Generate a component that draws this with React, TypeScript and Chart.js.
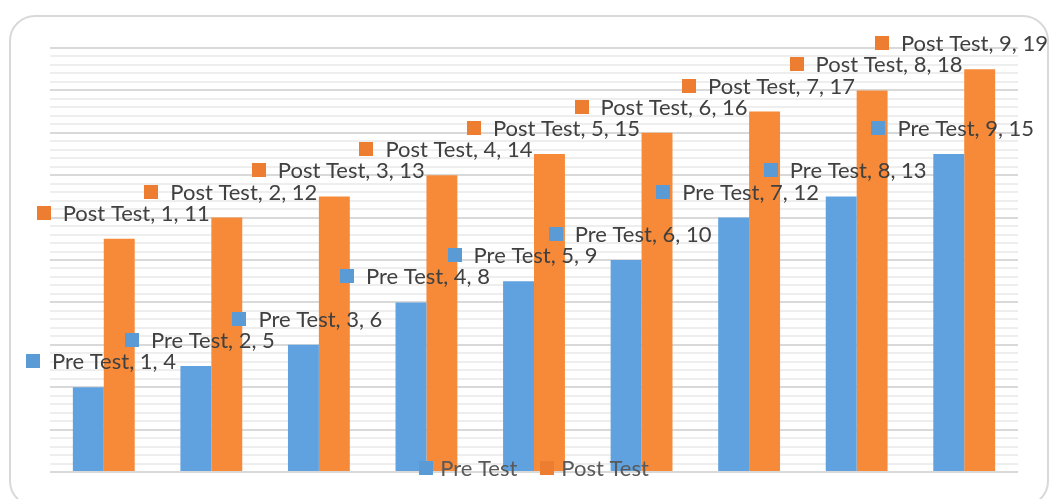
import React, { useEffect, useRef } from 'react';
import { Chart, registerables } from 'chart.js';

Chart.register(...registerables);

const categories = ['1', '2', '3', '4', '5', '6', '7', '8', '9'];
const seriesNames = ['Pre Test', 'Post Test'];
const preTest = [4, 5, 6, 8, 9, 10, 12, 13, 15];
const postTest = [11, 12, 13, 14, 15, 16, 17, 18, 19];
const yMin = 0;
const yMax = 20;
const minorStep = 0.4;
const majorStep = 2;

const barColors = ['#60a2df', '#f68a38'];
const markerColors = ['#5b9bd5', '#ed7d31'];
const FONT = '22px Lato, "Liberation Sans", sans-serif';

const labelPlugin = {
  id: 'valueLabels',
  afterDatasetsDraw(chart: any) {
    const ctx = chart.ctx;
    ctx.save();
    ctx.font = FONT;
    ctx.textBaseline = 'middle';
    ctx.textAlign = 'left';
    chart.data.datasets.forEach((ds: any, di: number) => {
      const meta = chart.getDatasetMeta(di);
      meta.data.forEach((el: any, i: number) => {
        const text = `${ds.label}, ${chart.data.labels[i]}, ${ds.data[i]}`;
        const tw = ctx.measureText(text).width;
        const w = 26 + tw;
        let left = el.x + 4 - w / 2;
        left = Math.max(26, Math.min(left, chart.width - 3 - w));
        const cy = el.y - 26;
        ctx.fillStyle = markerColors[di];
        ctx.fillRect(Math.round(left), Math.round(cy - 7), 14, 14);
        ctx.fillStyle = '#404040';
        ctx.fillText(text, left + 26, cy + 1);
      });
    });
    ctx.restore();
  },
};

const legendPlugin = {
  id: 'bottomLegend',
  afterDraw(chart: any) {
    const ctx = chart.ctx;
    ctx.save();
    ctx.font = FONT;
    ctx.textBaseline = 'middle';
    ctx.textAlign = 'left';
    const items = chart.data.datasets.map((ds: any) => ds.label as string);
    const widths = items.map((t: string) => 21 + ctx.measureText(t).width);
    const gap = 23;
    const total = widths.reduce((a: number, b: number) => a + b, 0) + gap * (items.length - 1);
    let x = (chart.chartArea.left + chart.chartArea.right) / 2 - total / 2;
    const cy = 468;
    items.forEach((t: string, i: number) => {
      ctx.fillStyle = markerColors[i];
      ctx.fillRect(Math.round(x), cy - 7, 14, 14);
      ctx.fillStyle = '#595959';
      ctx.fillText(t, x + 21, cy + 1);
      x += widths[i] + gap;
    });
    ctx.restore();
  },
};

export default function App() {
  const canvasRef = useRef<HTMLCanvasElement | null>(null);

  useEffect(() => {
    if (!canvasRef.current) return;
    const chart = new Chart(canvasRef.current, {
      type: 'bar',
      data: {
        labels: categories,
        datasets: [
          { label: seriesNames[0], data: preTest, backgroundColor: barColors[0], borderWidth: 0 },
          { label: seriesNames[1], data: postTest, backgroundColor: barColors[1], borderWidth: 0 },
        ],
      },
      options: {
        responsive: false,
        animation: false,
        layout: { padding: { left: 50, right: 33, top: 48, bottom: 27 } },
        datasets: {
          bar: { categoryPercentage: 0.575, barPercentage: 1 },
        },
        plugins: {
          legend: { display: false },
          tooltip: { enabled: false },
          title: { display: false },
        },
        scales: {
          x: { display: false },
          y: {
            min: yMin,
            max: yMax,
            border: { display: false },
            ticks: { display: false },
            afterBuildTicks: (scale: any) => {
              const ticks = [];
              const n = Math.round((yMax - yMin) / minorStep);
              for (let k = 0; k <= n; k++) ticks.push({ value: yMin + k * minorStep });
              scale.ticks = ticks;
            },
            grid: {
              drawTicks: false,
              lineWidth: 2,
              color: (c: any) => {
                const v = c.tick ? c.tick.value : 0;
                const r = Math.round(v / minorStep);
                const per = Math.round(majorStep / minorStep);
                return r % per === 0 ? '#d9d9d9' : '#eeeeee';
              },
            },
          },
        },
      },
      plugins: [labelPlugin, legendPlugin],
    });
    return () => chart.destroy();
  }, []);

  return (
    <div style={{ position: 'absolute', left: 0, top: 0, width: 1051, height: 499, overflow: 'hidden', background: '#ffffff' }}>
      <div
        style={{
          position: 'absolute',
          left: 9,
          top: 15,
          width: 1040,
          height: 492,
          boxSizing: 'border-box',
          border: '2px solid #d9d9d9',
          borderRadius: 26,
        }}
      />
      <canvas ref={canvasRef} width={1051} height={499} style={{ position: 'absolute', left: 0, top: 0 }} />
    </div>
  );
}
